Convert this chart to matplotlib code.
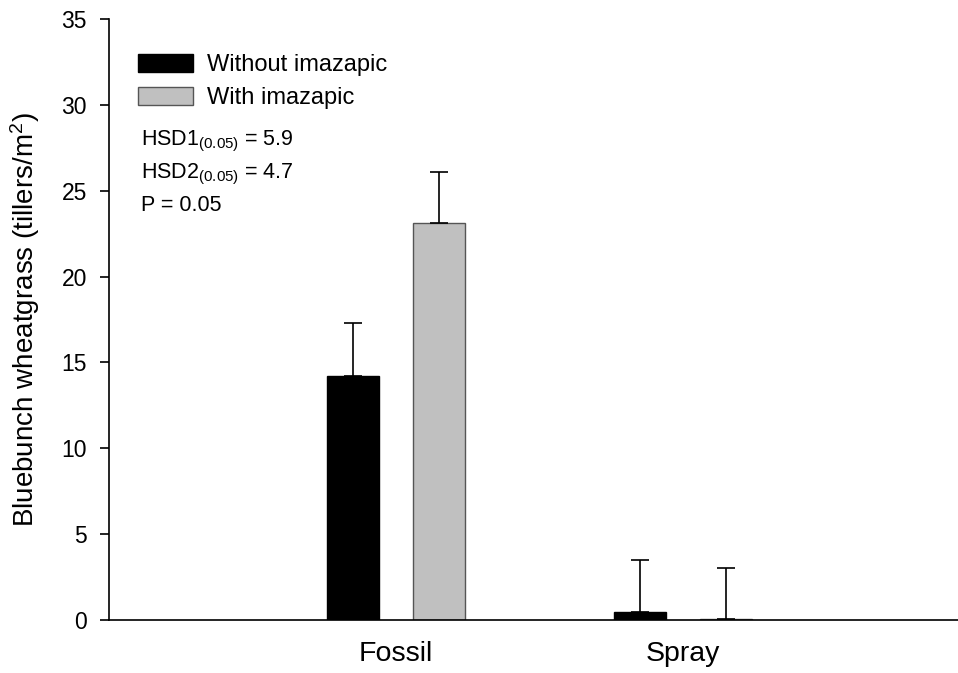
import matplotlib.pyplot as plt
import numpy as np

plt.rcParams['font.family'] = ['Liberation Sans', 'DejaVu Sans']
plt.rcParams['mathtext.fontset'] = 'custom'
plt.rcParams['mathtext.rm'] = 'Liberation Sans'
plt.rcParams['mathtext.it'] = 'Liberation Sans:italic'
plt.rcParams['mathtext.bf'] = 'Liberation Sans:bold'

sites = ['Fossil', 'Spray']
without_imazapic = [14.2, 0.47]
with_imazapic = [23.1, 0.03]
without_err = [3.1, 3.0]
with_err = [3.0, 3.0]

fig = plt.figure(figsize=(9.58, 6.73), dpi=100)
ax = fig.add_axes([0.1138, 0.0788, 0.8862, 0.893])

x = np.arange(1, len(sites) + 1)
off = 0.15
w = 0.181
ebar = dict(elinewidth=1.2, capsize=6.5, capthick=1.2, ecolor='black')

ax.bar(x - off, without_imazapic, w, color='black', edgecolor='black',
       linewidth=1, label='Without imazapic',
       yerr=[np.zeros(2), without_err], error_kw=ebar)
ax.bar(x + off, with_imazapic, w, color='#c0c0c0', edgecolor='#555555',
       linewidth=1, label='With imazapic',
       yerr=[np.zeros(2), with_err], error_kw=ebar)

ax.set_xlim(0, 2.96)
ax.set_ylim(0, 35)
ax.set_yticks(range(0, 36, 5))
ax.set_xticks(x)
ax.set_xticklabels(sites, fontsize=20.5)
ax.tick_params(axis='x', length=0, pad=15.5)
ax.tick_params(axis='y', length=6.5, width=1.2, labelsize=16.5, pad=9.5)
ax.set_ylabel(r'Bluebunch wheatgrass (tillers/m$^{2}$)', fontsize=20)
ax.yaxis.set_label_coords(-0.079, 0.5)

for s in ['top', 'right']:
    ax.spines[s].set_visible(False)
for s in ['left', 'bottom']:
    ax.spines[s].set_linewidth(1.2)

ax.legend(loc='upper left', bbox_to_anchor=(0.0094, 0.977), frameon=False,
          fontsize=17, handlelength=2.33, handleheight=0.82,
          handletextpad=0.6, labelspacing=0.43)

ax.text(0.0377, 0.789, r'HSD1$_{\mathrm{(0.05)}}$ = 5.9', transform=ax.transAxes,
        fontsize=15.5, va='baseline')
ax.text(0.0377, 0.735, r'HSD2$_{\mathrm{(0.05)}}$ = 4.7', transform=ax.transAxes,
        fontsize=15.5, va='baseline')
ax.text(0.0377, 0.681, 'P = 0.05', transform=ax.transAxes,
        fontsize=15.5, va='baseline')

fig.savefig('out.png', dpi=100)
